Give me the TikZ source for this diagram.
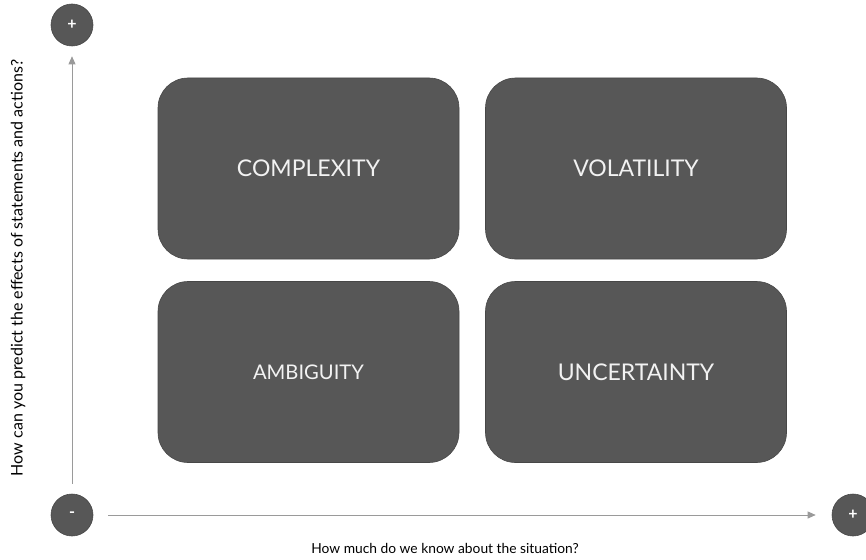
\documentclass[tikz,border=0pt]{standalone}
\usepackage{fontspec}
\setmainfont{Lato}
\usetikzlibrary{arrows.meta}
\definecolor{quadgray}{HTML}{575757}
\definecolor{quadline}{HTML}{474747}
\definecolor{axisgray}{HTML}{9A9A9A}

\begin{document}
\begin{tikzpicture}[x=1pt, y=-1pt,
    quad/.style = {draw = quadline, line width = 0.6pt, fill = quadgray, rounded corners = 30pt,
                   minimum width = 301pt, minimum height = 181pt, text = white!95!black,
                   font = \fontsize{23}{26}\selectfont},
    sign/.style = {circle, draw = quadline, line width = 0.6pt, fill = quadgray, minimum size = 42pt,
                   inner sep = 0pt, text = white, font = \fontsize{16}{18}\selectfont\bfseries},
    axis/.style = {draw = axisgray, line width = 0.8pt, -{Triangle[length = 8pt, width = 7pt]}}]
    \useasboundingbox (0,0) rectangle (866,559);

    % quadrants
    \node[quad] (cplx) at (308.5,168.5) {COMPLEXITY};
    \node[quad] (vola) at (636,168.5) {VOLATILITY};
    \node[quad, font = \fontsize{20.2}{24}\selectfont] (ambi) at (308.5,372) {AMBIGUITY};
    \node[quad] (unct) at (636,372) {UNCERTAINTY};

    % axis ends
    \node[sign] (ytop) at (72,25) {+};
    \node[sign] (orig) at (72,515) {-};
    \node[sign] (xend) at (853,515) {+};

    \draw[axis, shorten <= 10pt, shorten >= 10pt] (orig) -- (ytop);
    \draw[axis, shorten <= 15pt, shorten >= 16pt] (orig) -- (xend);

    % axis labels
    \node[rotate = 90, font = \fontsize{16}{18}\selectfont] (ylab) at (18,268)
        {How can you predict the effects of statements and actions?};
    \node[font = \fontsize{13.8}{16}\selectfont] (xlab) at (445,548)
        {How much do we know about the situation?};
\end{tikzpicture}
\end{document}
